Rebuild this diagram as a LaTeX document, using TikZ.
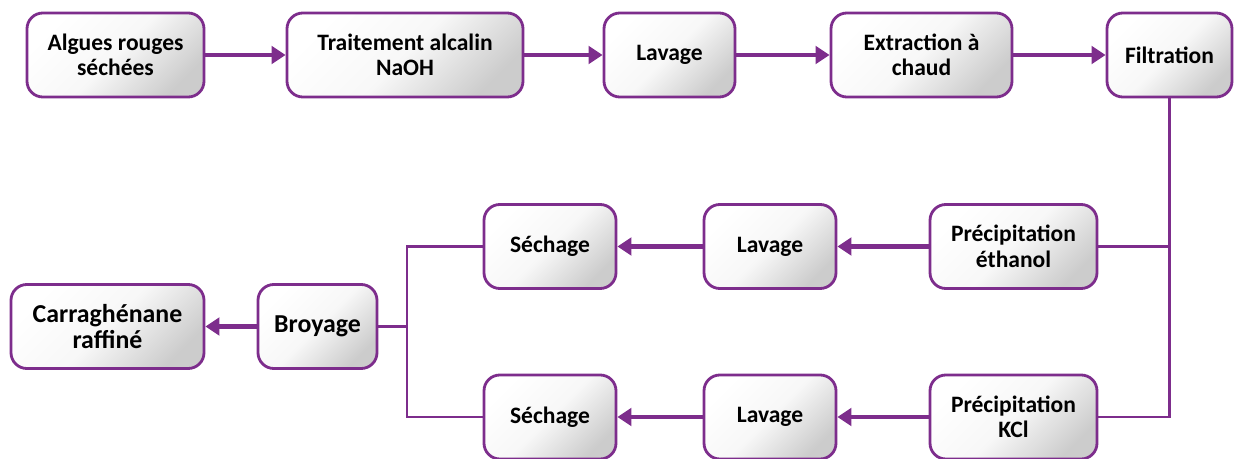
\documentclass[tikz,border=0pt]{standalone}
\usepackage{fontspec}
\setmainfont{Carlito}
\usepackage{xcolor}
\usetikzlibrary{positioning}
\usetikzlibrary{arrows.meta}
\definecolor{violet}{RGB}{125,45,140}

\begin{document}
\begin{tikzpicture}[on grid,
  box/.style={draw=violet,line width=1.6pt,rounded corners=9pt,
    top color=white,bottom color=black!20,middle color=black!3,shading angle=45,
    minimum height=1.68cm,inner sep=0pt,align=center,
    font=\fontsize{13.4}{14.5}\selectfont\bfseries},
  big/.style={font=\fontsize{14.7}{14.5}\selectfont\bfseries},
  flow/.style={draw=violet,line width=2.8pt,-{Triangle[length=8pt,width=10pt]}},
  link/.style={draw=violet,line width=1.6pt}]
  \useasboundingbox (0,0) rectangle (24.7,-9.18);
  % top row
  \node[box,minimum width=3.54cm] (alg) at (2.31,-1.1) {Algues rouges\\séchées};
  \node[box,minimum width=4.72cm] (trt) [right=5.79cm of alg] {Traitement alcalin\\NaOH};
  \node[box,minimum width=2.62cm] (lav) [right=5.29cm of trt] {Lavage};
  \node[box,minimum width=3.62cm] (ext) [right=5.04cm of lav] {Extraction à\\chaud};
  \node[box,minimum width=2.5cm] (fil) [right=4.96cm of ext] {Filtration};
  % two branches
  \node[box,minimum width=3.34cm] (pe) at (20.27,-4.93) {Précipitation\\éthanol};
  \node[box,minimum width=2.64cm] (lv1) [left=4.87cm of pe] {Lavage};
  \node[box,minimum width=2.64cm] (se1) [left=4.4cm of lv1] {Séchage};
  \node[box,minimum width=3.34cm] (pk) [below=3.41cm of pe] {Précipitation\\KCl};
  \node[box,minimum width=2.64cm] (lv2) [below=3.41cm of lv1] {Lavage};
  \node[box,minimum width=2.64cm] (se2) [below=3.41cm of se1] {Séchage};
  % end
  \node[box,big,minimum width=2.38cm] (bro) at (6.35,-6.53) {Broyage};
  \node[box,big,minimum width=3.86cm] (car) [left=4.2cm of bro] {Carraghénane\\raffiné};
  \coordinate (j) at (8.14,-6.53);
  \draw[flow] (alg) -- (trt);
  \draw[flow] (trt) -- (lav);
  \draw[flow] (lav) -- (ext);
  \draw[flow] (ext) -- (fil);
  \draw[link] (fil.south) |- (pe.east);
  \draw[link] (fil.south) |- (pk.east);
  \draw[flow] (pe) -- (lv1);
  \draw[flow] (lv1) -- (se1);
  \draw[flow] (pk) -- (lv2);
  \draw[flow] (lv2) -- (se2);
  \draw[link] (se1.west) -| (j) |- (se2.west);
  \draw[link] (j) -- (bro.east);
  \draw[flow] (bro) -- (car);
\end{tikzpicture}
\end{document}
